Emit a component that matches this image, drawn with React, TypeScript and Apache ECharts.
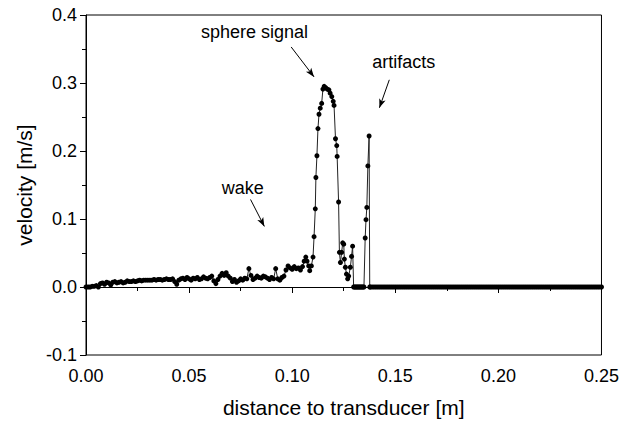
import React, { useEffect, useRef } from "react";
import * as echarts from "echarts";

// [distance (m), velocity (m/s)]
const baseline: [number, number][] = [
  [0.000, 0.000], [0.001, 0.000], [0.002, 0.000], [0.003, 0.001], [0.004, 0.001], [0.005, 0.002], [0.006, 0.000], [0.007, 0.005], [0.008, 0.006], [0.009, 0.004],
  [0.010, 0.007], [0.011, 0.006], [0.012, 0.003], [0.013, 0.007], [0.014, 0.008], [0.015, 0.006], [0.016, 0.007], [0.017, 0.008], [0.018, 0.006], [0.019, 0.007],
  [0.020, 0.009], [0.021, 0.008], [0.022, 0.008], [0.023, 0.009], [0.024, 0.008], [0.025, 0.009], [0.026, 0.010], [0.027, 0.009], [0.028, 0.010], [0.029, 0.010],
  [0.030, 0.010], [0.031, 0.010], [0.032, 0.010], [0.033, 0.011], [0.034, 0.010], [0.035, 0.011], [0.036, 0.011], [0.037, 0.010], [0.038, 0.011], [0.039, 0.012],
  [0.040, 0.011], [0.041, 0.011], [0.042, 0.012], [0.043, 0.008], [0.044, 0.004], [0.045, 0.010], [0.046, 0.012], [0.047, 0.013], [0.048, 0.011], [0.049, 0.014],
  [0.050, 0.012], [0.051, 0.010], [0.052, 0.013], [0.053, 0.012], [0.054, 0.014], [0.055, 0.011], [0.056, 0.012], [0.057, 0.015], [0.058, 0.013], [0.059, 0.012],
  [0.060, 0.014], [0.061, 0.016], [0.062, 0.009], [0.063, 0.005], [0.064, 0.011], [0.065, 0.016], [0.066, 0.020], [0.067, 0.017], [0.068, 0.021], [0.069, 0.016],
  [0.070, 0.013], [0.071, 0.008], [0.072, 0.011], [0.073, 0.007], [0.074, 0.009], [0.075, 0.012], [0.076, 0.010], [0.077, 0.013], [0.078, 0.012], [0.079, 0.027],
  [0.080, 0.017], [0.081, 0.011], [0.082, 0.013], [0.083, 0.016], [0.084, 0.014], [0.085, 0.013], [0.086, 0.016], [0.087, 0.015], [0.088, 0.013], [0.089, 0.011],
  [0.090, 0.014], [0.091, 0.012], [0.092, 0.027], [0.093, 0.012], [0.094, 0.010], [0.095, 0.014], [0.096, 0.016], [0.097, 0.025], [0.098, 0.031], [0.099, 0.028],
  [0.100, 0.026], [0.101, 0.030], [0.102, 0.027], [0.103, 0.028], [0.104, 0.025], [0.105, 0.030],
];

const peak: [number, number][] = [
  [0.1058, 0.038], [0.1066, 0.044], [0.1072, 0.038], [0.1080, 0.031], [0.1085, 0.024], [0.1093, 0.031], [0.1101, 0.044],
  [0.1106, 0.074], [0.1112, 0.115], [0.1115, 0.161], [0.1120, 0.193], [0.1125, 0.233], [0.1130, 0.254], [0.1136, 0.263],
  [0.1143, 0.270], [0.1149, 0.291], [0.1155, 0.295], [0.1162, 0.293], [0.1170, 0.291], [0.1178, 0.290], [0.1184, 0.285],
  [0.1192, 0.280], [0.1199, 0.273], [0.1203, 0.267], [0.1210, 0.218], [0.1216, 0.208], [0.1218, 0.192], [0.1225, 0.125],
  [0.1229, 0.051], [0.1234, 0.036], [0.1240, 0.051], [0.1245, 0.065], [0.1250, 0.063], [0.1253, 0.041], [0.1258, 0.029],
  [0.1263, 0.019], [0.1269, 0.012], [0.1274, 0.016], [0.1282, 0.029], [0.1288, 0.045], [0.1293, 0.060], [0.1298, 0.000],
  [0.1303, 0.000], [0.1308, 0.000], [0.1313, 0.000], [0.1318, 0.000], [0.1323, 0.000], [0.1328, 0.000], [0.1333, 0.000],
  [0.1338, 0.000], [0.1343, 0.000], [0.1348, 0.000], [0.1354, 0.072], [0.1358, 0.099], [0.1362, 0.117], [0.1367, 0.178],
  [0.1373, 0.222], [0.1376, 0.000],
];

const tail: [number, number][] = [
  [0.138, 0], [0.139, 0], [0.140, 0], [0.141, 0], [0.142, 0], [0.143, 0], [0.144, 0], [0.145, 0], [0.146, 0], [0.147, 0],
  [0.148, 0], [0.149, 0], [0.150, 0], [0.151, 0], [0.152, 0], [0.153, 0], [0.154, 0], [0.155, 0], [0.156, 0], [0.157, 0],
  [0.158, 0], [0.159, 0], [0.160, 0], [0.161, 0], [0.162, 0], [0.163, 0], [0.164, 0], [0.165, 0], [0.166, 0], [0.167, 0],
  [0.168, 0], [0.169, 0], [0.170, 0], [0.171, 0], [0.172, 0], [0.173, 0], [0.174, 0], [0.175, 0], [0.176, 0], [0.177, 0],
  [0.178, 0], [0.179, 0], [0.180, 0], [0.181, 0], [0.182, 0], [0.183, 0], [0.184, 0], [0.185, 0], [0.186, 0], [0.187, 0],
  [0.188, 0], [0.189, 0], [0.190, 0], [0.191, 0], [0.192, 0], [0.193, 0], [0.194, 0], [0.195, 0], [0.196, 0], [0.197, 0],
  [0.198, 0], [0.199, 0], [0.200, 0], [0.201, 0], [0.202, 0], [0.203, 0], [0.204, 0], [0.205, 0], [0.206, 0], [0.207, 0],
  [0.208, 0], [0.209, 0], [0.210, 0], [0.211, 0], [0.212, 0], [0.213, 0], [0.214, 0], [0.215, 0], [0.216, 0], [0.217, 0],
  [0.218, 0], [0.219, 0], [0.220, 0], [0.221, 0], [0.222, 0], [0.223, 0], [0.224, 0], [0.225, 0], [0.226, 0], [0.227, 0],
  [0.228, 0], [0.229, 0], [0.230, 0], [0.231, 0], [0.232, 0], [0.233, 0], [0.234, 0], [0.235, 0], [0.236, 0], [0.237, 0],
  [0.238, 0], [0.239, 0], [0.240, 0], [0.241, 0], [0.242, 0], [0.243, 0], [0.244, 0], [0.245, 0], [0.246, 0], [0.247, 0],
  [0.248, 0], [0.249, 0], [0.250, 0],
];

const annotations = [
  { text: "sphere signal", x: 0.0817, y: 0.375 },
  { text: "artifacts", x: 0.1541, y: 0.331 },
  { text: "wake", x: 0.076, y: 0.1463 },
];

const arrows = [
  { x1: 0.0995, y1: 0.353, x2: 0.1106, y2: 0.309 },
  { x1: 0.1471, y1: 0.3047, x2: 0.1423, y2: 0.2636 },
  { x1: 0.0798, y1: 0.1287, x2: 0.0865, y2: 0.0891 },
];

const FONT = "'Liberation Sans', Arial, Helvetica, sans-serif";

export default function App() {
  const ref = useRef<HTMLDivElement>(null);
  useEffect(() => {
    if (!ref.current) return;
    const chart = echarts.init(ref.current, null, { renderer: "svg" });
    const data = [...baseline, ...peak, ...tail];
    const axisCommon = {
      type: "value",
      nameLocation: "middle",
      nameTextStyle: { fontSize: 21, color: "#000", fontFamily: FONT },
      axisLine: { show: true, lineStyle: { color: "#000", width: 1 } },
      axisTick: { show: true, length: 6, lineStyle: { color: "#000", width: 1 } },
      minorTick: { show: true, splitNumber: 2, length: 4, lineStyle: { color: "#000", width: 1 } },
      splitLine: { show: false },
      minorSplitLine: { show: false },
    };
    chart.setOption({
      animation: false,
      backgroundColor: "#fff",
      textStyle: { fontFamily: FONT },
      grid: {
        left: 86,
        right: 16,
        top: 15,
        bottom: 67,
        show: true,
        borderColor: "#000",
        borderWidth: 1,
        backgroundColor: "transparent",
      },
      xAxis: {
        ...axisCommon,
        min: 0,
        max: 0.25,
        interval: 0.05,
        name: "distance to transducer [m]",
        nameGap: 42,
        axisLabel: {
          fontSize: 18,
          color: "#000",
          fontFamily: FONT,
          margin: 12,
          formatter: (v: number) => v.toFixed(2),
        },
      },
      yAxis: {
        ...axisCommon,
        min: -0.1,
        max: 0.4,
        interval: 0.1,
        name: "velocity [m/s]",
        nameGap: 50,
        axisLabel: {
          fontSize: 18,
          color: "#000",
          fontFamily: FONT,
          margin: 9,
          formatter: (v: number) => v.toFixed(1),
        },
      },
      series: [
        {
          type: "line",
          data,
          symbol: "circle",
          symbolSize: 5,
          showAllSymbol: true,
          itemStyle: { color: "#000" },
          lineStyle: { color: "#222", width: 1 },
          markLine: {
            silent: true,
            symbol: ["none", "arrow"],
            symbolSize: [5, 9],
            label: { show: false },
            lineStyle: { color: "#000", width: 1, type: "solid" },
            data: arrows.map((a) => [
              { coord: [a.x1, a.y1] },
              { coord: [a.x2, a.y2] },
            ]),
          },
        },
      ],
    });
    const graphic = annotations.map((a) => {
      const p = chart.convertToPixel({ gridIndex: 0 }, [a.x, a.y]) as number[];
      return {
        type: "text",
        x: p[0],
        y: p[1],
        style: {
          text: a.text,
          fontSize: 18,
          fontFamily: FONT,
          fill: "#000",
          align: "center",
          verticalAlign: "middle",
        },
      };
    });
    chart.setOption({ graphic });
    return () => chart.dispose();
  }, []);
  return (
    <div
      ref={ref}
      style={{ position: "fixed", left: 0, top: 0, width: 622, height: 423 }}
    />
  );
}
